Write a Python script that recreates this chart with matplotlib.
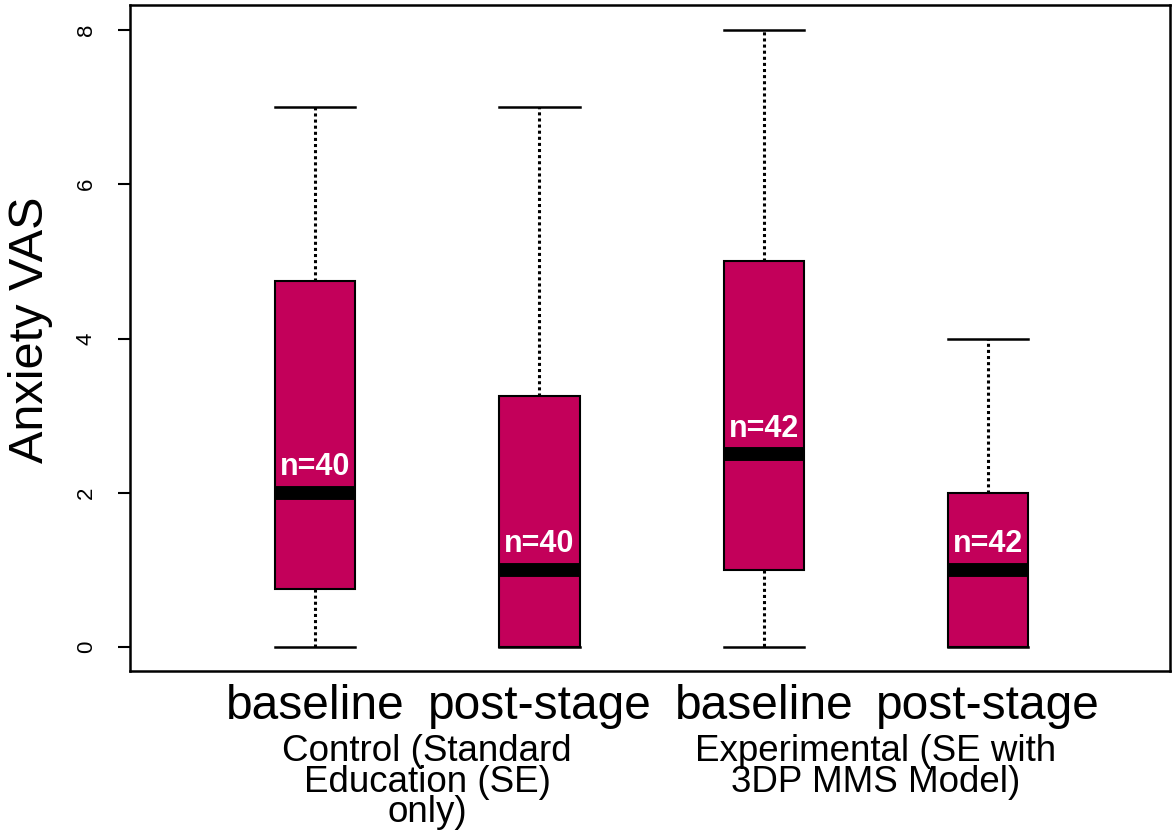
import matplotlib
matplotlib.use("Agg")
import matplotlib.pyplot as plt
import matplotlib.transforms as mtransforms
from matplotlib import font_manager

# box statistics (Anxiety VAS)
conditions = ["baseline", "post-stage", "baseline", "post-stage"]
whisker_low = [0, 0, 0, 0]
q1 = [0.75, 0, 1, 0]
medians = [2, 1, 2.5, 1]
q3 = [4.75, 3.25, 5, 2]
whisker_high = [7, 7, 8, 4]
n_labels = ["n=40", "n=40", "n=42", "n=42"]
group_labels = ["Control (Standard\nEducation (SE)\nonly)",
                "Experimental (SE with\n3DP MMS Model)"]
group_centers = [1.5, 3.5]
y_ticks = [0, 2, 4, 6, 8]

box_color = "#C3005A"

installed = {f.name for f in font_manager.fontManager.ttflist}
base_font = "Liberation Sans" if "Liberation Sans" in installed else "DejaVu Sans"
narrow_font = "Liberation Sans Narrow" if "Liberation Sans Narrow" in installed else base_font
plt.rcParams["font.family"] = [base_font, "DejaVu Sans"]

fig = plt.figure(figsize=(11.73, 8.35), dpi=100)
ax = fig.add_axes([0.1108, 0.1964, 0.8866, 0.7976])

positions = list(range(1, len(conditions) + 1))
stats = []
for i in range(len(conditions)):
    stats.append({
        "whislo": whisker_low[i], "q1": q1[i], "med": medians[i],
        "q3": q3[i], "whishi": whisker_high[i], "fliers": [],
        "label": conditions[i],
    })

ax.bxp(stats, positions=positions, widths=0.357, patch_artist=True,
       showfliers=False,
       boxprops=dict(facecolor=box_color, edgecolor="black", linewidth=1.5),
       medianprops=dict(color="black", linewidth=10, solid_capstyle="butt"),
       whiskerprops=dict(color="black", linewidth=2.2, linestyle=(0, (1, 1))),
       capprops=dict(color="black", linewidth=1.8),
       capwidths=0.357)

# sample sizes written just above each median
for pos, med, lab in zip(positions, medians, n_labels):
    ax.text(pos, med + 0.33, lab, ha="center", va="center", color="white",
            fontsize=22 if narrow_font == base_font else 25,
            fontweight="bold", family=[narrow_font, "DejaVu Sans"])

ax.set_xlim(0.175, 4.81)
ax.set_ylim(-0.311, 8.324)

ax.set_yticks(y_ticks)
ax.set_yticklabels([str(t) for t in y_ticks], rotation=90, va="center",
                   fontsize=16)
ax.tick_params(axis="y", length=9, width=1.5, pad=15)
ax.tick_params(axis="x", length=0, pad=9, labelsize=34.5)
ax.set_ylabel("Anxiety VAS", fontsize=35, labelpad=16)
ax.yaxis.label.set_y(0.513)

for sp in ax.spines.values():
    sp.set_linewidth(1.8)

trans = mtransforms.blended_transform_factory(ax.transData, ax.transAxes)
for xc, lab in zip(group_centers, group_labels):
    ax.text(xc, -0.095, lab, transform=trans, ha="center", va="top",
            fontsize=26.5, linespacing=0.83)

fig.savefig("out.png", dpi=100)
